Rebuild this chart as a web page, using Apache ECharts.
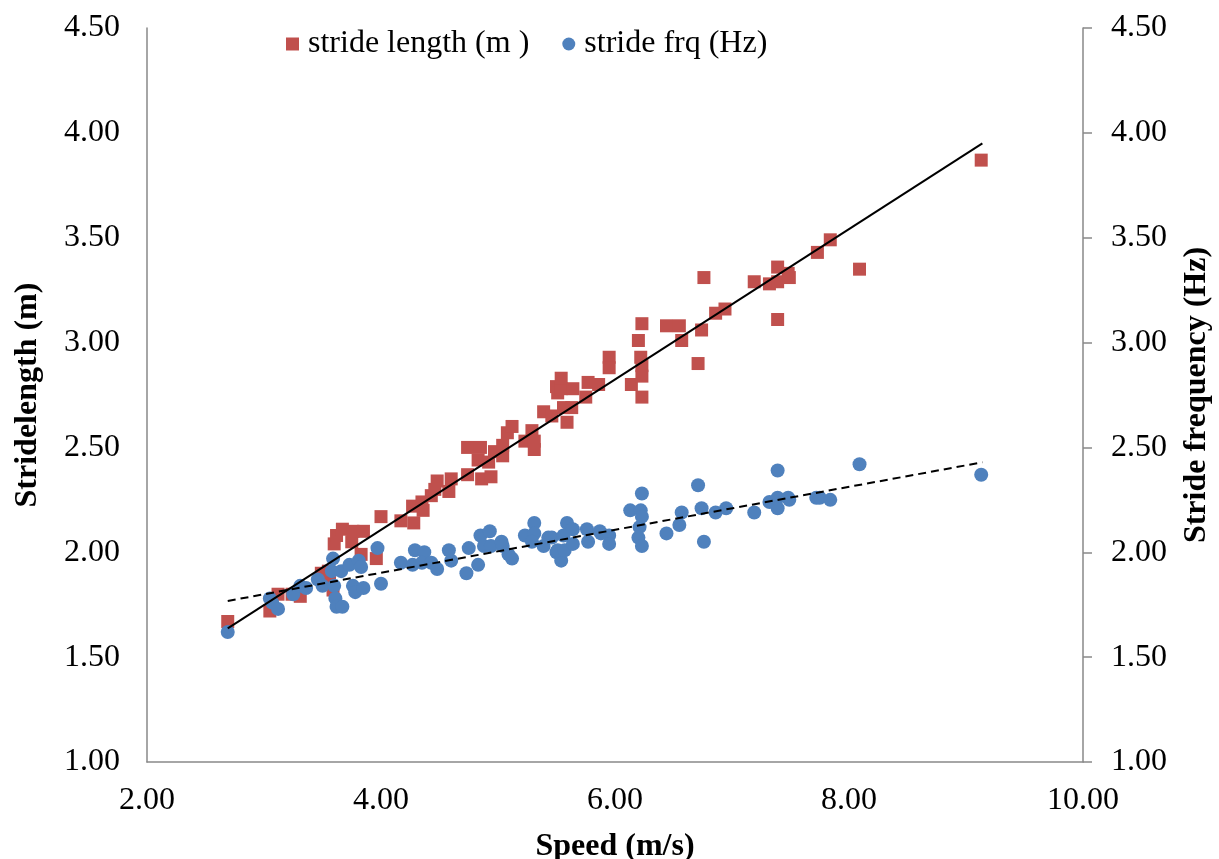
<!DOCTYPE html>
<html>
<head>
<meta charset="utf-8">
<script src="https://cdn.jsdelivr.net/npm/echarts@6/dist/echarts.min.js"></script>
<style>
  html, body { margin: 0; padding: 0; background: #fff; }
  #chart { width: 1219px; height: 859px; }
</style>
</head>
<body>
<div id="chart"></div>
<script>
// Stride length (m) vs speed (m/s)
const strideLength = [
  [2.69,1.67],[3.05,1.72],[3.12,1.80],[3.24,1.80],[3.31,1.79],[3.49,1.90],[3.56,1.88],[3.55,1.91],[3.59,1.82],
  [3.60,2.04],[3.62,2.08],[3.67,2.11],[3.75,2.05],[3.76,2.10],[3.85,2.10],[3.83,1.99],[3.96,1.97],[4.00,2.17],
  [4.17,2.15],[4.28,2.14],[4.27,2.22],[4.36,2.20],[4.35,2.24],[4.43,2.27],[4.48,2.34],[4.46,2.30],[4.58,2.29],
  [4.60,2.35],[4.74,2.37],[4.74,2.50],[4.85,2.50],[4.86,2.35],[4.94,2.36],[4.83,2.44],[4.92,2.43],[4.97,2.48],
  [5.04,2.51],[5.04,2.46],[5.08,2.57],[5.12,2.60],[5.23,2.53],[5.29,2.58],[5.31,2.53],[5.31,2.49],[5.39,2.67],
  [5.46,2.65],[5.59,2.62],[5.63,2.69],[5.56,2.69],[5.50,2.79],[5.51,2.76],[5.54,2.78],[5.54,2.83],[5.64,2.78],
  [5.75,2.74],[5.77,2.81],[5.86,2.80],[5.95,2.93],[5.95,2.88],[6.14,2.80],[6.20,3.01],[6.22,2.93],[6.23,2.89],
  [6.23,2.84],[6.23,2.74],[6.23,3.09],[6.44,3.08],[6.55,3.08],[6.57,3.01],[6.71,2.90],[6.74,3.06],[6.76,3.31],
  [6.86,3.14],[6.94,3.16],[7.19,3.29],[7.32,3.28],[7.39,3.36],[7.39,3.29],[7.39,3.11],[7.48,3.33],[7.49,3.31],
  [7.73,3.43],[7.84,3.49],[8.09,3.35],[9.13,3.87]
];
// Stride frequency (Hz) vs speed (m/s)
const strideFreq = [
  [2.69,1.62],[3.05,1.78],[3.07,1.76],[3.12,1.73],[3.25,1.80],[3.31,1.84],[3.36,1.83],[3.46,1.87],[3.50,1.84],
  [3.58,1.91],[3.59,1.97],[3.60,1.84],[3.61,1.78],[3.62,1.74],[3.67,1.74],[3.66,1.91],[3.73,1.94],[3.76,1.84],
  [3.78,1.81],[3.81,1.96],[3.83,1.93],[3.85,1.83],[3.97,2.02],[4.00,1.85],[4.17,1.95],[4.27,1.94],[4.29,2.01],
  [4.37,2.00],[4.35,1.95],[4.43,1.95],[4.48,1.92],[4.58,2.01],[4.60,1.96],[4.73,1.90],[4.75,2.02],[4.83,1.94],
  [4.85,2.08],[4.93,2.10],[4.88,2.03],[4.94,2.03],[5.03,2.05],[5.04,2.03],[5.09,1.99],[5.12,1.97],[5.23,2.08],
  [5.31,2.14],[5.31,2.09],[5.29,2.05],[5.39,2.03],[5.43,2.07],[5.46,2.07],[5.50,2.00],[5.54,1.96],[5.51,2.01],
  [5.57,2.01],[5.59,2.14],[5.56,2.08],[5.64,2.11],[5.64,2.04],[5.76,2.11],[5.77,2.05],[5.87,2.10],[5.88,2.09],
  [5.95,2.08],[5.95,2.04],[6.13,2.20],[6.23,2.28],[6.22,2.20],[6.23,2.17],[6.21,2.12],[6.20,2.07],[6.23,2.03],
  [6.44,2.09],[6.55,2.13],[6.57,2.19],[6.71,2.32],[6.74,2.21],[6.76,2.05],[6.86,2.19],[6.95,2.21],[7.19,2.19],
  [7.32,2.24],[7.39,2.39],[7.39,2.26],[7.39,2.21],[7.48,2.26],[7.49,2.25],[7.72,2.26],[7.75,2.26],[7.84,2.25],
  [8.09,2.42],[9.13,2.37]
];
// Trend line end points
const lengthTrend = [[2.69,1.637],[9.14,3.95]];
const freqTrend = [[2.69,1.768],[9.14,2.429]];

const xTicks = { min: 2, max: 10, interval: 2 };
const yTicks = { min: 1, max: 4.5, interval: 0.5 };
const seriesNames = ['stride length (m )', 'stride frq (Hz)'];
const axisTitles = { x: 'Speed (m/s)', yLeft: 'Stridelength (m)', yRight: 'Stride frequency (Hz)' };

const FONT = 'Liberation Serif';
const AXIS_COLOR = '#898989';
const chart = echarts.init(document.getElementById('chart'), null, { renderer: 'canvas' });

const yAxisCommon = {
  type: 'value', min: yTicks.min, max: yTicks.max, interval: yTicks.interval,
  splitLine: { show: false },
  axisLine: { show: true, lineStyle: { color: AXIS_COLOR, width: 1.5 } },
  axisLabel: { fontFamily: FONT, fontSize: 32, color: '#000', margin: 27, formatter: v => v.toFixed(2) },
  nameLocation: 'middle',
  nameTextStyle: { fontFamily: FONT, fontSize: 32, fontWeight: 'bold', color: '#000' }
};

chart.setOption({
  animation: false,
  backgroundColor: '#fff',
  grid: { left: 147, right: 136, top: 28, bottom: 97, containLabel: false, outerBoundsMode: 'none' },
  legend: {
    data: [
      { name: seriesNames[0], icon: 'rect' },
      { name: seriesNames[1], icon: 'circle' }
    ],
    left: 281, top: 23,
    itemWidth: 13, itemHeight: 13, itemGap: 33,
    selectedMode: false,
    textStyle: { fontFamily: FONT, fontSize: 32, color: '#000', padding: [0, 0, 0, 4] }
  },
  xAxis: {
    type: 'value', min: xTicks.min, max: xTicks.max, interval: xTicks.interval,
    splitLine: { show: false },
    axisTick: { show: false },
    axisLine: { show: true, onZero: false, lineStyle: { color: AXIS_COLOR, width: 1.5 } },
    axisLabel: { fontFamily: FONT, fontSize: 32, color: '#000', margin: 23, formatter: v => v.toFixed(2) },
    name: axisTitles.x, nameLocation: 'middle', nameGap: 69,
    nameTextStyle: { fontFamily: FONT, fontSize: 32, fontWeight: 'bold', color: '#000' }
  },
  yAxis: [
    Object.assign({}, yAxisCommon, {
      position: 'left', name: axisTitles.yLeft, nameGap: 103,
      axisTick: { show: false }
    }),
    Object.assign({}, yAxisCommon, {
      position: 'right', name: axisTitles.yRight, nameGap: 98,
      axisTick: { show: true, inside: false, length: 9, lineStyle: { color: AXIS_COLOR, width: 1.5 } },
      axisLabel: Object.assign({}, yAxisCommon.axisLabel, { margin: 28 })
    })
  ],
  series: [
    {
      name: seriesNames[0], type: 'scatter', yAxisIndex: 0,
      symbol: 'rect', symbolSize: 13,
      itemStyle: { color: '#C0504D', opacity: 1 },
      data: strideLength, z: 2
    },
    {
      name: seriesNames[1], type: 'scatter', yAxisIndex: 1,
      symbol: 'circle', symbolSize: 14,
      itemStyle: { color: '#4F81BD', opacity: 1 },
      data: strideFreq, z: 3
    },
    {
      type: 'line', yAxisIndex: 0, data: lengthTrend, symbol: 'none', silent: true,
      lineStyle: { color: '#000', width: 2, type: 'solid' }, z: 4
    },
    {
      type: 'line', yAxisIndex: 1, data: freqTrend, symbol: 'none', silent: true,
      lineStyle: { color: '#000', width: 2, type: [8, 5] }, z: 4
    }
  ]
});
</script>
</body>
</html>
